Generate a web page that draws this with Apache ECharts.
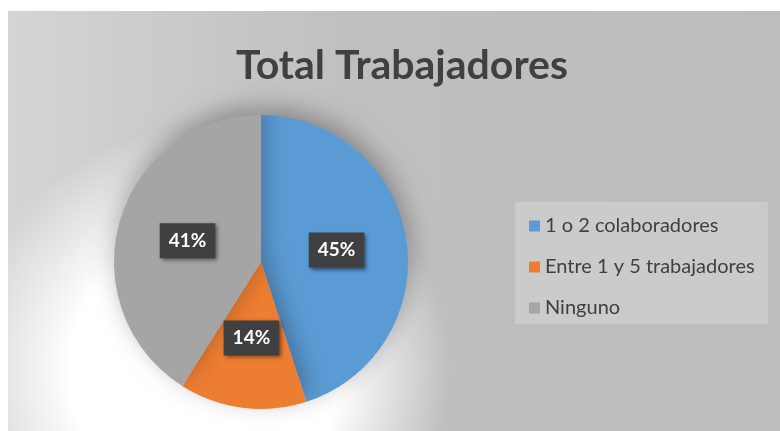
<!DOCTYPE html>
<html>
<head>
<meta charset="utf-8">
<title>Total Trabajadores</title>
<script src="https://cdn.jsdelivr.net/npm/echarts@6/dist/echarts.min.js"></script>
<style>
  html, body { margin: 0; padding: 0; background: #ffffff; }
  #main { width: 780px; height: 431px; }
</style>
</head>
<body>
<div id="main"></div>
<script>
// datos del grafico
var categories = ['1 o 2 colaboradores', 'Entre 1 y 5 trabajadores', 'Ninguno']
var percentValues = [45, 14, 41]
var sliceColors = ['#5b9bd5', '#ed7d31', '#a5a5a5']

var chart = echarts.init(document.getElementById('main'))

var pieData = categories.map(function (name, i) {
  return { name: name, value: percentValues[i], itemStyle: { color: sliceColors[i] } }
})

chart.setOption({
  animation: false,
  graphic: [
    {
      type: 'rect',
      z: -10,
      shape: { x: 8, y: 11, width: 772, height: 420 },
      style: {
        fill: new echarts.graphic.LinearGradient(0, 0, 1, 0, [
          { offset: 0, color: '#d4d4d4' },
          { offset: 0.45, color: '#bfbfbf' },
          { offset: 1, color: '#bdbdbd' }
        ])
      }
    },
    {
      // brillo blanco abajo a la izquierda
      type: 'circle',
      z: -9,
      shape: { cx: 205, cy: 370, r: 245 },
      style: {
        fill: new echarts.graphic.RadialGradient(0.5, 0.5, 0.5, [
          { offset: 0, color: 'rgba(255,255,255,1)' },
          { offset: 0.55, color: 'rgba(255,255,255,1)' },
          { offset: 1, color: 'rgba(255,255,255,0)' }
        ])
      }
    },
    {
      // caja de la leyenda
      type: 'rect',
      z: -5,
      shape: { x: 515, y: 202, width: 253, height: 122 },
      style: { fill: 'rgba(255,255,255,0.2)' }
    }
  ],
  title: {
    text: 'Total Trabajadores',
    left: 397,
    textAlign: 'center',
    top: 40,
    textStyle: {
      fontFamily: 'Lato',
      fontWeight: 'bold',
      fontSize: 41,
      color: '#404040'
    }
  },
  legend: {
    orient: 'vertical',
    left: 524,
    top: 211,
    itemWidth: 11,
    itemHeight: 11,
    itemGap: 21,
    icon: 'rect',
    textStyle: {
      fontFamily: 'Lato',
      fontSize: 20,
      color: '#404040'
    },
    data: categories
  },
  series: [
    {
      type: 'pie',
      center: [261, 262],
      radius: 147,
      startAngle: 90,
      clockwise: true,
      data: pieData,
      itemStyle: {
        shadowColor: 'rgba(0,0,0,0.3)',
        shadowBlur: 25,
        shadowOffsetX: 2,
        shadowOffsetY: -8
      },
      label: {
        position: 'inside',
        formatter: function (p) {
          return Math.round(p.percent) + '%'
        },
        fontFamily: 'Lato',
        fontWeight: 'bold',
        fontSize: 19,
        color: '#ffffff',
        backgroundColor: '#404040',
        padding: [8, 9, 8, 9],
        shadowColor: 'rgba(0,0,0,0.5)',
        shadowBlur: 4,
        shadowOffsetX: 2,
        shadowOffsetY: 2
      },
      labelLine: { show: false },
      emphasis: { disabled: true }
    }
  ]
})
</script>
</body>
</html>
